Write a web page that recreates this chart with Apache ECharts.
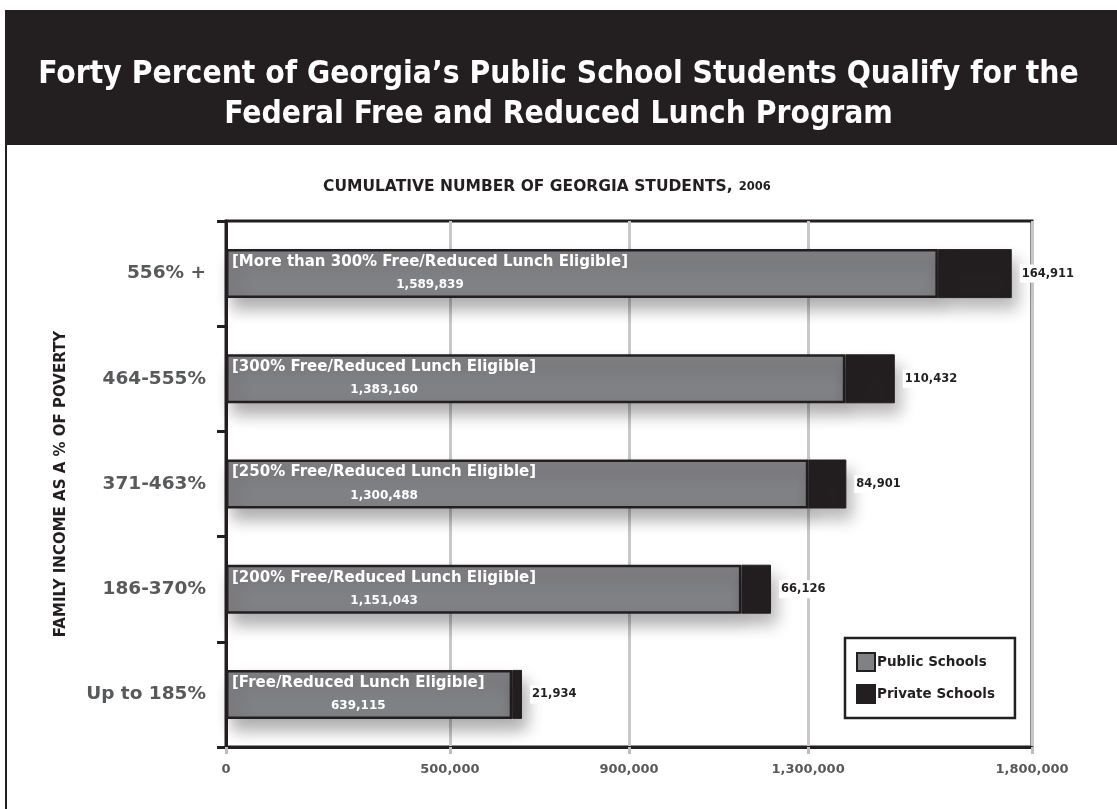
<!DOCTYPE html>
<html>
<head>
<meta charset="utf-8">
<script src="https://cdn.jsdelivr.net/npm/echarts@6/dist/echarts.min.js"></script>
<style>
  html, body { margin: 0; padding: 0; background: #fff; }
  #chart { width: 1117px; height: 809px; }
</style>
</head>
<body>
<div id="chart"></div>
<script>
// income bands, top to bottom
const categories = ['556% +', '464-555%', '371-463%', '186-370%', 'Up to 185%']
const eligibility = [
  '[More than 300% Free/Reduced Lunch Eligible]',
  '[300% Free/Reduced Lunch Eligible]',
  '[250% Free/Reduced Lunch Eligible]',
  '[200% Free/Reduced Lunch Eligible]',
  '[Free/Reduced Lunch Eligible]',
]
const publicSchools = [1589839, 1383160, 1300488, 1151043, 639115]
const privateSchools = [164911, 110432, 84901, 66126, 21934]
const xTicks = [0, 500000, 900000, 1300000, 1800000]

const DARK = '#231f20'
const GREY = '#808184'
const LABEL_GREY = '#58595b'
const FONT = '"DejaVu Sans", sans-serif'
const NARROW = '"DejaVu Sans Condensed", "Liberation Sans Narrow", sans-serif'

const fmt = (v) => Number(v).toLocaleString('en-US')

const chart = echarts.init(document.getElementById('chart'))

const option = {
  animation: false,
  backgroundColor: '#fff',
  textStyle: { fontFamily: FONT },
  graphic: [
    // black header band
    { type: 'rect', shape: { x: 5, y: 10, width: 1112, height: 135 }, style: { fill: DARK } },
    // left frame line
    { type: 'line', shape: { x1: 6, y1: 145, x2: 6, y2: 809 }, style: { stroke: DARK, lineWidth: 2 } },
  ],
  title: [
    {
      text: 'Forty Percent of Georgia’s Public School Students Qualify for the\nFederal Free and Reduced Lunch Program',
      left: 'center',
      top: 50,
      textStyle: { color: '#fff', fontSize: 31.5, fontWeight: 'bold', lineHeight: 40, fontFamily: NARROW },
    },
    {
      text: '{a|CUMULATIVE NUMBER OF GEORGIA STUDENTS,} {b|2006}',
      left: 318,
      top: 173,
      textStyle: {
        rich: {
          a: { fontSize: 15.5, fontWeight: 'bold', color: DARK, fontFamily: FONT },
          b: { fontSize: 11.5, fontWeight: 'bold', color: DARK, fontFamily: FONT },
        },
      },
    },
  ],
  legend: {
    left: 845,
    top: 638,
    orient: 'vertical',
    itemWidth: 18,
    itemHeight: 18,
    itemGap: 12,
    padding: [14, 20, 14, 11],
    borderColor: DARK,
    borderWidth: 2.5,
    icon: 'rect',
    textStyle: { color: DARK, fontSize: 13.5, fontWeight: 'bold', fontFamily: FONT, padding: [0, 0, 0, -3] },
    data: ['Public Schools', 'Private Schools'],
  },
  grid: {
    left: 226,
    right: 85,
    top: 221,
    bottom: 62,
    show: true,
    borderColor: DARK,
    borderWidth: 3,
  },
  xAxis: {
    type: 'value',
    min: 0,
    max: 1800000,
    axisLine: { show: true, lineStyle: { color: DARK, width: 3 } },
    axisTick: { show: true, customValues: xTicks, length: 7, lineStyle: { color: '#bcbec0', width: 3 } },
    splitLine: { show: true, lineStyle: { color: '#c7c8ca', width: 3 } },
    axisLabel: {
      customValues: xTicks,
      formatter: (v) => fmt(v),
      color: LABEL_GREY,
      fontSize: 13,
      fontWeight: 'bold',
      margin: 16,
    },
  },
  yAxis: {
    type: 'category',
    inverse: true,
    data: categories,
    axisLine: { lineStyle: { color: DARK, width: 3 } },
    axisTick: { show: true, length: 9, lineStyle: { color: DARK, width: 3 } },
    axisLabel: { color: LABEL_GREY, fontSize: 18.5, fontWeight: 'bold', margin: 20 },
    name: 'FAMILY INCOME AS A % OF POVERTY',
    nameLocation: 'middle',
    nameRotate: 90,
    nameGap: 157,
    nameTextStyle: { color: DARK, fontSize: 15, fontWeight: 'bold' },
  },
  series: [
    {
      name: 'Public Schools',
      type: 'bar',
      stack: 'students',
      barWidth: 49,
      data: publicSchools,
      itemStyle: {
        color: GREY,
        borderColor: DARK,
        borderWidth: 2.5,
        shadowColor: 'rgba(0,0,0,0.32)',
        shadowBlur: 16,
        shadowOffsetX: 6,
        shadowOffsetY: 11,
      },
      label: {
        show: true,
        position: 'insideLeft',
        distance: 6,
        formatter: (p) => '{t|' + eligibility[p.dataIndex] + '}\n{v|' + fmt(p.value) + '}',
        rich: {
          t: { color: '#fff', fontSize: 15, fontWeight: 'bold', fontFamily: FONT, lineHeight: 23 },
          v: { color: '#fff', fontSize: 12, fontWeight: 'bold', fontFamily: FONT, lineHeight: 23, align: 'center' },
        },
      },
    },
    {
      name: 'Private Schools',
      type: 'bar',
      stack: 'students',
      barWidth: 49,
      data: privateSchools,
      itemStyle: {
        color: DARK,
        borderColor: DARK,
        borderWidth: 1,
        shadowColor: 'rgba(0,0,0,0.28)',
        shadowBlur: 16,
        shadowOffsetX: 6,
        shadowOffsetY: 11,
      },
      label: {
        show: true,
        position: 'right',
        distance: 8,
        formatter: (p) => fmt(p.value),
        color: DARK,
        fontSize: 11.5,
        fontWeight: 'bold',
        backgroundColor: '#fff',
        padding: [3, 2],
      },
    },
  ],
}

chart.setOption(option)
</script>
</body>
</html>
